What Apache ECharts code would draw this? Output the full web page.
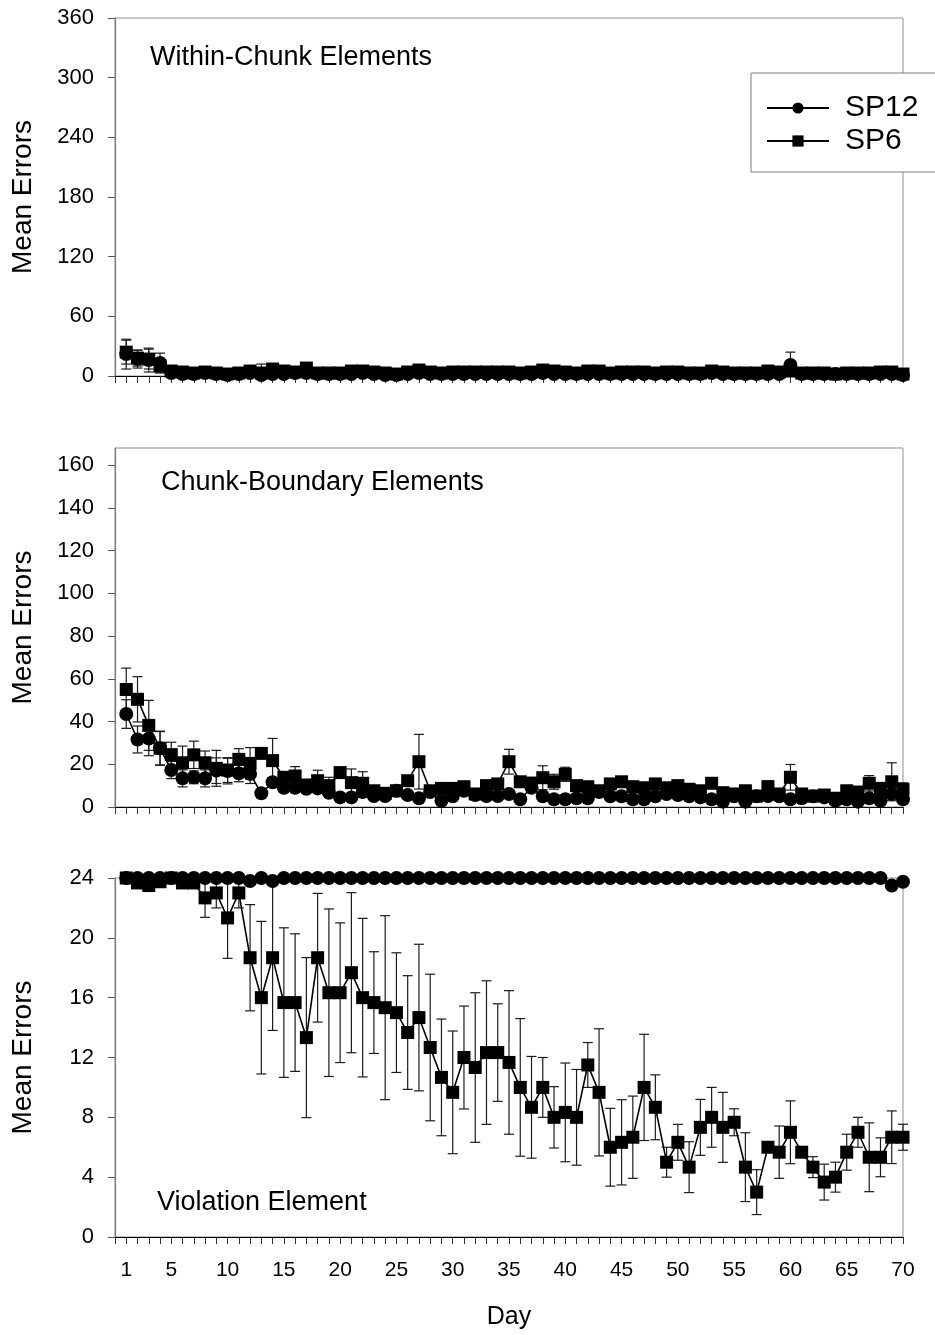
<!DOCTYPE html>
<html><head><meta charset="utf-8">
<script src="https://cdn.jsdelivr.net/npm/echarts@6/dist/echarts.min.js"></script>
<style>html,body{margin:0;padding:0;background:#fff}#c{width:935px;height:1335px}</style>
</head><body><div id="c"></div><script>
const days = [1,2,3,4,5,6,7,8,9,10,11,12,13,14,15,16,17,18,19,20,21,22,23,24,25,26,27,28,29,30,31,32,33,34,35,36,37,38,39,40,41,42,43,44,45,46,47,48,49,50,51,52,53,54,55,56,57,58,59,60,61,62,63,64,65,66,67,68,69,70];
const xTickLabels = [1,5,10,15,20,25,30,35,40,45,50,55,60,65,70];
const y1Ticks = [0,60,120,180,240,300,360];
const y2Ticks = [0,20,40,60,80,100,120,140,160];
const y3Ticks = [0,4,8,12,16,20,24];
const panelTitles = ['Within-Chunk Elements','Chunk-Boundary Elements','Violation Element'];

// Panel 1: Within-Chunk Elements
const p1SP12 = [22,17,16,13,3,2,2,3,2,1, 2,3,1,2,2,3,3,2,2,2, 2,3,2,1,1,2,3,2,2,2, 2,2,2,2,2,2,2,3,2,2, 2,2,2,2,2,2,2,2,2,2, 2,2,3,2,2,2,2,2,2,11, 2,2,2,2,2,2,2,2,2,1];
const p1SP12Err = [15,9,12,10,0,0,0,0,0,0, 0,0,0,0,0,0,0,0,0,0, 0,0,0,0,0,0,0,0,0,0, 0,0,0,0,0,0,0,0,0,0, 0,0,0,0,0,0,0,0,0,0, 0,0,0,0,0,0,0,0,0,13, 0,0,0,0,0,0,0,0,0,0];
const p1SP6 = [24,18,17,10,5,4,3,4,3,2, 3,5,3,7,5,4,8,3,3,3, 5,5,4,3,2,4,6,4,3,4, 4,4,4,4,4,3,4,6,5,4, 3,5,5,3,4,4,4,3,4,4, 3,3,5,4,3,3,3,5,4,5, 3,3,3,2,3,3,3,4,4,2];
const p1SP6Err = [12,8,10,6,2,0,0,0,0,0, 0,0,9,3,0,0,3,0,0,0, 0,4,0,0,0,0,2,0,0,0, 0,0,0,0,0,0,0,0,0,0, 0,0,0,0,0,0,0,0,0,0, 0,0,0,0,0,0,0,0,0,0, 0,0,0,0,0,0,0,0,0,0];

// Panel 2: Chunk-Boundary Elements
const p2SP12 = [43.5,31.6,32,27.5,17.3,13.4,13.9,13.4,17,16.8, 15.8,15.5,6.4,11.6,9,9,8.5,8.7,6.7,4.5, 4.5,7,5.1,5.1,7.6,5.6,4.1,7,2.9,5, 7.6,5.6,5.1,5.1,6.1,3.6,9,5,3.6,3.6, 4.1,4.1,7,5,5,3.6,3.6,5,6.1,5.6, 5,4.5,3.6,2.5,5,2.5,5,5.1,5,3.6, 4.1,5,4.5,2.9,3.6,2.5,4.1,2.9,6.1,3.6];
const p2SP12Err = [6.7,6.3,8,7.8,4,4,3,4,6,6, 4,4.5,1,2,2,2,1.5,1.5,1.5,1, 1,2.5,1,1,1,1,1,1,1,1, 1,1,1,1,1,1,2,1,1,1, 1,1,1,1,1,1,1,1,1,1, 1,1,1,1,1,1,1,1,1,1, 1,1,1,1,1,1,1,1,1,1];
const p2SP6 = [55,50.4,38.2,27.5,24.5,20.7,24.4,20.7,18.1,17.3, 22.3,20.4,25.1,21.7,13.9,14.5,10.3,12.3,10,16.1, 11.4,11.1,7.6,6.4,7.6,12.3,21.2,7.6,8.7,8.7, 9.5,6.1,10,10.8,21.2,11.8,11,13.7,11.8,15.3, 10,9.5,7.6,10.8,11.8,9.5,9,10.8,9,10, 8.3,7.6,11.1,6.7,6.1,7.6,5.1,9.5,6.1,13.9, 6.1,5.1,5.6,4.1,7.6,7,11.1,8.5,11.8,8.3];
const p2SP6Err = [10,10.6,11.7,8,5.8,7.8,6.4,5.5,8.4,5.8, 5,7.4,1,10.4,2,4.4,2,4.9,3.9,2, 6.4,5.4,2,1,1,2,12.8,2,1.5,2, 1.5,1,2,2,5.8,2,3,5.6,3.5,3.3, 1,1,1,1,1,1,1,1,1,1, 1,1,1,1,1,1,1,2.7,1,6, 1,1,1.5,1,1,1,3.6,3,8.9,3];

// Panel 3: Violation Element
const p3SP12 = [24,24,24,24,24,24,24,24,24,24, 24,23.8,24,23.8,24,24,24,24,24,24, 24,24,24,24,24,24,24,24,24,24, 24,24,24,24,24,24,24,24,24,24, 24,24,24,24,24,24,24,24,24,24, 24,24,24,24,24,24,24,24,24,24, 24,24,24,24,24,24,24,24,23.5,23.75];
const p3SP12Err = [0,0,0,0,0,0,0,0,0,0, 0,0,0,0,0,0,0,0,0,0, 0,0,0,0,0,0,0,0,0,0, 0,0,0,0,0,0,0,0,0,0, 0,0,0,0,0,0,0,0,0,0, 0,0,0,0,0,0,0,0,0,0, 0,0,0,0,0,0,0,0,0,0];
const p3SP6 = [24,23.67,23.5,23.75,24,23.67,23.67,22.67,23,21.33, 23,18.67,16,18.67,15.67,15.67,13.33,18.67,16.33,16.33, 17.67,16,15.67,15.33,15,13.67,14.67,12.67,10.67,9.67, 12,11.33,12.33,12.33,11.67,10,8.67,10,8,8.33, 8,11.5,9.67,6,6.33,6.67,10,8.67,5,6.33, 4.67,7.33,8,7.33,7.67,4.67,3,6,5.67,7, 5.67,4.67,3.67,4,5.67,7,5.33,5.33,6.67,6.67];
const p3SP6Err = [0,0.3,0.4,0.2,0,0.3,0.3,1.3,1,2.7, 1,3.55,5.1,4.86,5,4.6,5.35,4.3,5.6,4.67, 5.35,5.3,3.4,6.15,4,3.8,4.9,4.9,3.9,4.1, 3.44,5,4.8,3.26,4.8,4.6,3.4,2,2.05,3.3, 3.2,1.5,4.25,2.6,2.85,2.75,3.55,2.17,1,1.2, 1.7,1.87,2,2.34,0.9,2.3,1.5,0.3,1.75,2.1, 0.3,0.7,1.2,1,1.2,1,2.3,1.3,1.76,0.87];

const FONT = '"Liberation Sans", Arial, Helvetica, sans-serif';
const chart = echarts.init(document.getElementById('c'), null, {renderer: 'canvas'});

function zip3(vals, errs) { return days.map((d, i) => [d, vals[i], errs[i]]); }
function zip2(vals) { return days.map((d, i) => [d, vals[i]]); }

function errRender(params, api) {
  const x = api.value(0), m = api.value(1), e = api.value(2);
  if (!e) return null;
  const lo = Math.max(0, m - e);
  const top = api.coord([x, m + e]);
  const bot = api.coord([x, lo]);
  const w = 5;
  const style = {stroke: '#1c1c1c', lineWidth: 1.2, fill: null};
  const kids = [
    {type: 'line', shape: {x1: top[0], y1: top[1], x2: bot[0], y2: bot[1]}, style: style},
    {type: 'line', shape: {x1: top[0] - w, y1: top[1], x2: top[0] + w, y2: top[1]}, style: style}
  ];
  if (m - e >= 0) kids.push({type: 'line', shape: {x1: bot[0] - w, y1: bot[1], x2: bot[0] + w, y2: bot[1]}, style: style});
  return {type: 'group', children: kids};
}

const grids = [
  {left: 115, top: 18, width: 788, height: 358},
  {left: 115, top: 448, width: 788, height: 359},
  {left: 115, top: 878, width: 788, height: 359}
].map(g => Object.assign(g, {show: true, borderColor: '#8f8f8f', borderWidth: 1, backgroundColor: 'transparent'}));

function xAxis(i, labels) {
  return {
    type: 'value', gridIndex: i, min: 0, max: 70, interval: 1,
    axisLine: {show: true, onZero: false, lineStyle: {color: '#000', width: 1.2}},
    axisTick: {show: true, length: 7, inside: false, lineStyle: {color: '#333', width: 1}},
    axisLabel: labels ? {show: true, customValues: xTickLabels, fontSize: 21, color: '#000', fontFamily: FONT, margin: 23} : {show: false},
    splitLine: {show: false},
    name: labels ? 'Day' : '', nameLocation: 'middle', nameGap: 68,
    nameTextStyle: {fontSize: 25, color: '#000', fontFamily: FONT}
  };
}
function yAxis(i, max, ticks) {
  return {
    type: 'value', gridIndex: i, min: 0, max: max,
    axisLine: {show: true, lineStyle: {color: '#7a7a7a', width: 1.2}},
    axisTick: {show: true, length: 7, customValues: ticks, lineStyle: {color: '#555'}},
    axisLabel: {show: true, customValues: ticks, fontSize: 22, color: '#000', fontFamily: FONT, margin: 21},
    splitLine: {show: false},
    name: 'Mean Errors', nameLocation: 'middle', nameGap: 78,
    nameTextStyle: {fontSize: 28, color: '#000', fontFamily: FONT}
  };
}

function lineSeries(name, i, vals, sym, size) {
  return {
    type: 'line', name: name, xAxisIndex: i, yAxisIndex: i, data: zip2(vals),
    symbol: sym, symbolSize: size, showAllSymbol: true, clip: false, z: 3,
    itemStyle: {color: '#000'}, lineStyle: {color: '#000', width: 1.6},
    emphasis: {disabled: true}, animation: false
  };
}
function errSeries(i, vals, errs) {
  return {
    type: 'custom', name: 'err', xAxisIndex: i, yAxisIndex: i, data: zip3(vals, errs),
    renderItem: errRender, clip: false, z: 2, encode: {x: 0, y: 1}, silent: true, animation: false
  };
}

const titlePos = [[150, 44], [161, 469], [157, 1189]];

const option = {
  backgroundColor: '#fff',
  animation: false,
  textStyle: {fontFamily: FONT},
  title: panelTitles.map((t, i) => ({
    text: t, left: titlePos[i][0], top: titlePos[i][1], padding: 0,
    textStyle: {fontSize: 27, fontWeight: 'normal', color: '#000', fontFamily: FONT}
  })),
  grid: grids,
  xAxis: [xAxis(0, false), xAxis(1, false), xAxis(2, true)],
  yAxis: [yAxis(0, 360, y1Ticks), yAxis(1, 168, y2Ticks), yAxis(2, 24, y3Ticks)],
  legend: {
    data: ['SP12', 'SP6'], orient: 'vertical', left: 751, top: 73,
    itemWidth: 62, itemHeight: 14, itemGap: 3,
    padding: [20, 40, 16, 15],
    borderColor: '#7f7f7f', borderWidth: 1, backgroundColor: '#fff',
    selectedMode: false,
    textStyle: {fontSize: 30, color: '#000', fontFamily: FONT, padding: [0, 0, 0, 11]}
  },
  series: [
    errSeries(0, p1SP12, p1SP12Err), errSeries(0, p1SP6, p1SP6Err),
    lineSeries('SP12', 0, p1SP12, 'circle', 14), lineSeries('SP6', 0, p1SP6, 'rect', 13),
    errSeries(1, p2SP12, p2SP12Err), errSeries(1, p2SP6, p2SP6Err),
    lineSeries('SP12', 1, p2SP12, 'circle', 14), lineSeries('SP6', 1, p2SP6, 'rect', 13),
    errSeries(2, p3SP12, p3SP12Err), errSeries(2, p3SP6, p3SP6Err),
    lineSeries('SP12', 2, p3SP12, 'circle', 14), lineSeries('SP6', 2, p3SP6, 'rect', 13)
  ]
};
chart.setOption(option);
</script></body></html>
